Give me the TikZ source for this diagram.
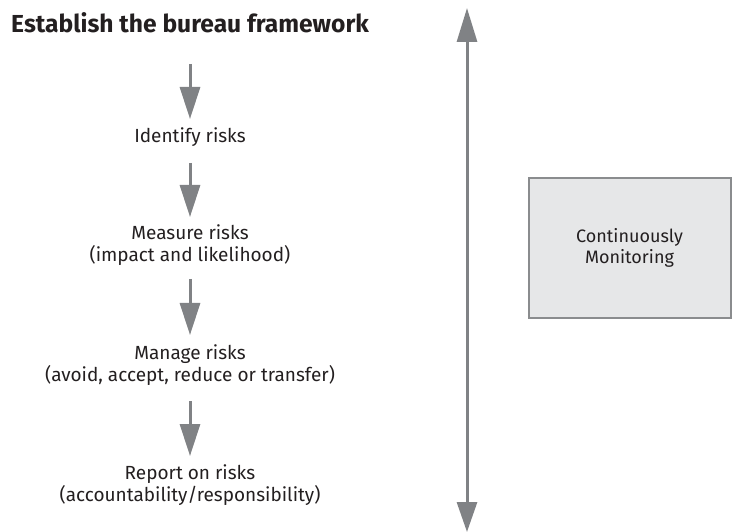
\documentclass[tikz,border=0pt]{standalone}
\usepackage{fontspec}
\setmainfont{Fira Sans}
\usetikzlibrary{arrows.meta}
\definecolor{ink}{HTML}{231F20}
\definecolor{arrowgray}{HTML}{808285}
\definecolor{boxfill}{HTML}{E6E7E8}
\definecolor{boxline}{HTML}{8A8C8E}
\begin{document}
\begin{tikzpicture}[x=1pt,y=-1pt,
  heading/.style={font=\fontsize{24.6}{28}\selectfont\bfseries, text=ink, inner sep=0pt, anchor=base west},
  stepnode/.style={font=\fontsize{19}{22.5}\selectfont, text=ink, inner sep=0pt, align=center},
  flow/.style={draw=arrowgray, line width=3pt, -{Triangle[length=32pt,width=20pt]}},
  flowboth/.style={draw=arrowgray, line width=3pt, {Triangle[length=34pt,width=20pt]}-{Triangle[length=30pt,width=20pt]}},
  monitorbox/.style={draw=boxline, fill=boxfill, line width=2pt, minimum width=202pt, minimum height=139pt,
    font=\fontsize{18}{20.5}\selectfont, text=ink, align=center, inner sep=0pt}
]
\useasboundingbox (0,0) rectangle (732,532);

% process steps
\node[heading] (title) at (11,33) {Establish the bureau framework};
\node[stepnode] (identify) at (190,137) {Identify risks};
\node[stepnode] (measure) at (190,245) {Measure risks\\(impact and likelihood)};
\node[stepnode] (manage) at (190,365) {Manage risks\\(avoid, accept, reduce or transfer)};
\node[stepnode] (report) at (190,485) {Report on risks\\(accountability/responsibility)};

% downward arrows between steps
\draw[flow] (identify.north |- 0,64) -- (identify.north |- 0,119);
\draw[flow] (measure.north |- 0,163) -- (measure.north |- 0,217);
\draw[flow] (manage.north |- 0,279) -- (manage.north |- 0,335);
\draw[flow] (report.north |- 0,401) -- (report.north |- 0,456);

% continuous monitoring spans the whole process
\coordinate (spantop) at (467,8);
\coordinate (spanbot) at (467,532);
\draw[flowboth] (spantop) -- (spanbot);

\node[monitorbox] (monitor) at (629.5,248) {Continuously\\Monitoring};
\end{tikzpicture}
\end{document}
